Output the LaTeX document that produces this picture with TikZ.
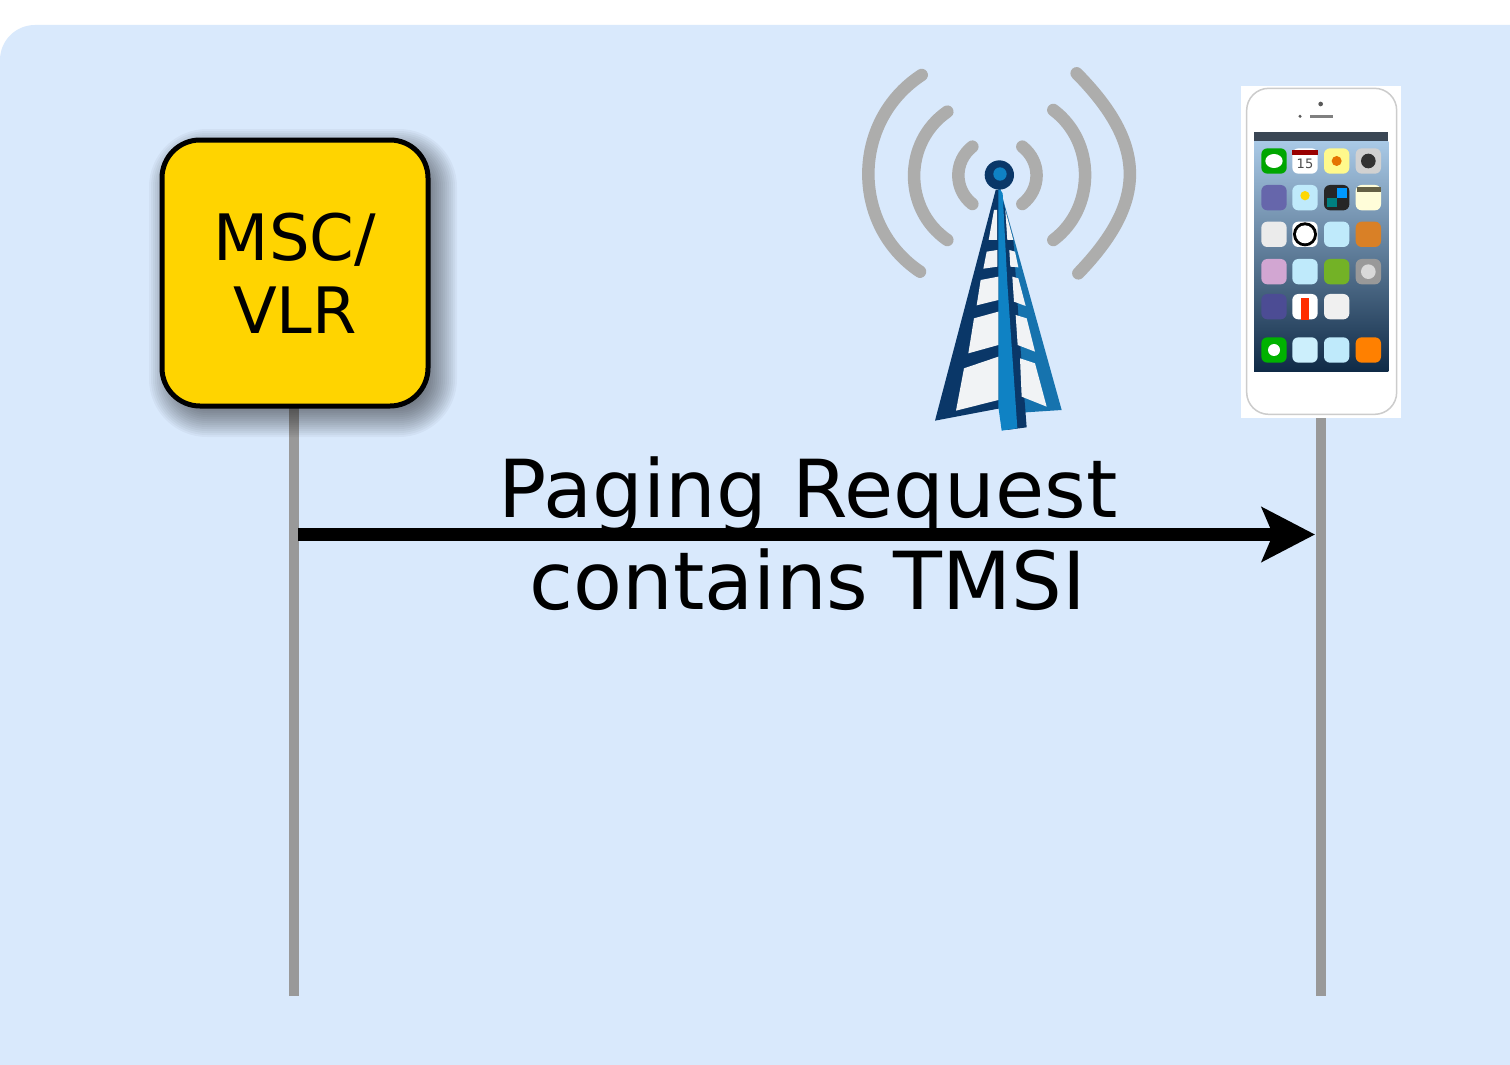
\documentclass[tikz,border=0pt]{standalone}
\usepackage{fontspec}
\setmainfont{DejaVu Sans}
\usetikzlibrary{arrows.meta,backgrounds}
\definecolor{bgblue}{HTML}{D9E9FC}
\definecolor{mscgold}{HTML}{FFD400}
\definecolor{lifegray}{HTML}{999999}
\definecolor{arcgray}{HTML}{ADADAC}
\definecolor{navy}{HTML}{0A3768}
\definecolor{towerblue}{HTML}{0F82C4}
\definecolor{rightblue}{HTML}{1673AE}
\definecolor{winwhite}{HTML}{F1F3F5}
\definecolor{scrtop}{HTML}{A9C9E6}
\definecolor{scrmid}{HTML}{3A79B0}
\definecolor{scrbot}{HTML}{0F2A46}
\definecolor{statusbar}{HTML}{3A4654}
\tikzset{
  lifeline/.style={draw=lifegray,line width=10pt},
  msgarrow/.style={draw=black,line width=13pt,-{Stealth[length=53pt,width=54pt,inset=11pt]}},
  mscbox/.style={draw=black,line width=5pt,fill=mscgold,rounded corners=38pt,minimum width=266pt,minimum height=266pt,inner sep=0pt,align=center,font=\fontsize{64}{73}\selectfont},
  msgtext/.style={align=center,inner sep=0pt,font=\fontsize{80}{92}\selectfont},
  radio/.style={draw=arcgray,line width=12.5pt,line cap=round},
  window/.style={fill=winwhite},
  phonebox/.style={fill=white,minimum width=160pt,minimum height=332pt,inner sep=0pt}
}
\begin{document}
\begin{tikzpicture}[x=1pt,y=-1pt]
\useasboundingbox (0,0) rectangle (1510,1065);
% nodes
\node[mscbox] (msc) at (295,273) {MSC/\\VLR};
\node[phonebox] (phone) at (1321,252) {};
\coordinate (mscend) at (294,996);
\coordinate (phoneend) at (1320.5,996);
\coordinate (from) at (298,534.5);
\coordinate (to) at (1315,534.5);
\begin{pgfonlayer}{background}
  \begin{scope}
    \clip (0,0) rectangle (1510,1065);
    \fill[white] (0,0) rectangle (1510,1065);
    \fill[bgblue,rounded corners=35pt] (0,25) rectangle (1600,1150);
  \end{scope}
  \draw[lifeline] (294,407) -- (mscend);
  \draw[lifeline] (phone.south -| phoneend) -- (phoneend);
  \foreach \w in {20,18,16,14,12,10,8,6,4,2,0,-2,-4,-6,-8,-10,-12,-14,-16,-18}{
    \fill[black,opacity=0.035,rounded corners=38pt+\w pt]
      ({161+8-\w},{139+10-\w}) rectangle ({429+8+\w},{407+10+\w});
  }
\end{pgfonlayer}
% message
\draw[msgarrow] (from) -- (to);
\node[msgtext] (msg) at (808,534) {Paging Request\\contains TMSI};
% tower (coordinates read from a 3x crop)
\begin{scope}[xshift=850pt,yshift=-50pt,x=0.33333pt,y=-0.33333pt]
  \draw[radio] (215,75) .. controls (2.5,214) and (2.5,526) .. (210,665);
  \draw[radio] (292,185) .. controls (159,277) and (159,478) .. (292,570);
  \draw[radio] (367,290) .. controls (311,334) and (311,418) .. (367,462);
  \draw[radio] (680,70) .. controls (892,285) and (892,455) .. (685,670);
  \draw[radio] (610,180) .. controls (737,275) and (737,475) .. (610,570);
  \draw[radio] (517,290) .. controls (574,335) and (574,417) .. (517,462);
  % legs
  \fill[navy] (437,420) -- (255,1112) -- (450,1075) -- (450,420) -- cycle;
  \fill[rightblue] (450,415) -- (635,1080) -- (528,1087) -- (450,1075) -- cycle;
  \fill[navy] (450,420) -- (490,570) -- (512,900) -- (530,1132) -- (470,1140) -- cycle;
  \fill[towerblue] (445,410) -- (458,430) -- (472,700) -- (502,1135) -- (455,1142) -- (445,1070) -- cycle;
  % windows
  \fill[window] (432,480) -- (441,480) -- (441,570) -- (416,570) -- cycle;
  \fill[window] (410,605) -- (442,600) -- (442,650) -- (400,656) -- cycle;
  \fill[window] (392,690) -- (445,680) -- (445,750) -- (380,766) -- cycle;
  \fill[window] (372,805) -- (445,785) -- (445,885) -- (355,910) -- cycle;
  \fill[window] (342,955) -- (445,920) -- (445,1050) -- (318,1082) -- cycle;
  \fill[window] (466,480) -- (490,570) -- (472,570) -- cycle;
  \fill[window] (478,600) -- (495,605) -- (505,652) -- (481,650) -- cycle;
  \fill[window] (487,680) -- (505,685) -- (527,768) -- (492,755) -- cycle;
  \fill[window] (497,795) -- (530,805) -- (555,905) -- (503,885) -- cycle;
  \fill[window] (510,925) -- (555,940) -- (590,1070) -- (515,1040) -- cycle;
  % ball
  \fill[navy] (448,375) circle[radius=44];
  \fill[towerblue] (450,372) circle[radius=20];
\end{scope}
% phone (coordinates read from a 3x crop)
\begin{scope}[xshift=1230pt,yshift=-75pt,x=0.33333pt,y=-0.33333pt]
  \draw[draw=black!20,fill=white,line width=1.5pt,rounded corners=22pt] (50,40) rectangle (500,1018);
  \fill[black!65] (272,87) circle[radius=7];
  \fill[black!65] (210,124) circle[radius=5];
  \fill[black!50] (240,120) rectangle (308,129);
  \fill[statusbar] (72,172) rectangle (475,200);
  \shade[top color=scrtop,middle color=scrmid,bottom color=scrbot] (72,200) rectangle (475,890);
  \foreach \ix/\iy/\ic in {
    132/258/green!65!black, 225/258/white, 320/258/yellow!45!white, 415/258/black!18,
    132/368/blue!45!black!60, 225/368/cyan!25!white, 320/368/black!85, 415/368/yellow!15!white,
    132/478/black!8, 225/478/white, 320/478/cyan!25!white, 415/478/brown!60!orange,
    132/590/violet!35!white, 225/590/cyan!25!white, 320/590/green!40!brown, 415/590/black!40,
    132/695/black!60!blue!70, 225/695/white, 320/695/black!6,
    132/825/green!70!black, 225/825/cyan!20!white, 320/825/cyan!25!white, 415/825/orange}{
    \fill[\ic,rounded corners=6pt] ({\ix-38},{\iy-38}) rectangle ({\ix+38},{\iy+38});
  }
  \fill[red!60!black] (187,225) rectangle (263,240);
  \node[inner sep=0pt,font=\fontsize{13}{13}\selectfont,text=black!70] (calendar) at (225,266) {15};
  \fill[white] (132,258) ellipse[x radius=26,y radius=21];
  \fill[orange!90!black] (320,258) circle[radius=15];
  \fill[black!80] (415,258) circle[radius=22];
  \fill[black!70!yellow] (380,336) rectangle (452,352);
  \fill[yellow!75!orange] (225,362) circle[radius=14];
  \fill[blue!40!cyan] (320,368) rectangle (350,340);
  \fill[green!50!blue] (290,395) rectangle (320,368);
  \fill[black] (225,478) circle[radius=36];
  \fill[white] (225,478) circle[radius=27];
  \fill[black!15] (415,590) circle[radius=22];
  \fill[red!65!orange] (212,670) rectangle (238,735);
  \fill[white] (132,825) circle[radius=18];
\end{scope}
\end{tikzpicture}
\end{document}
